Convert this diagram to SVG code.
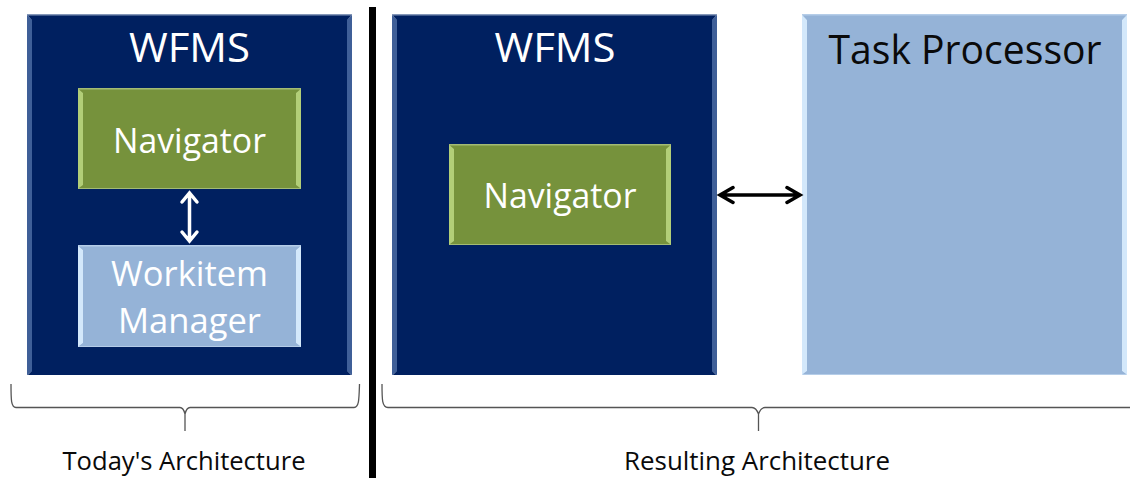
<svg xmlns="http://www.w3.org/2000/svg" width="1130" height="478" viewBox="0 0 1130 478">
<style>
text{font-family:"Open Sans","Noto Sans","Liberation Sans",sans-serif;text-anchor:middle}
.w{fill:#fff}.k{fill:#0a0a0a}
.t{font-size:41px}.n{font-size:35px}.c{font-size:25px}
.navy{fill:#002060}.navyb{fill:#3f5f98}.navyt{fill:#8497b8}
.green{fill:#76923c}.greenb{fill:#b2ce78}.greent{fill:#a3bb74}
.blue{fill:#95b3d7}.blueb{fill:#d3e8fb}.bluet{fill:#b5cde8}
.br{fill:none;stroke:#555;stroke-width:1.3}
.ar{fill:none;stroke-width:3.5;stroke-linecap:round;stroke-linejoin:miter}
</style>
<g id="wfms-left">
<rect class="navyt" x="27" y="14" width="325" height="361"/>
<path class="navyb" d="M27 15L32 20V371L27 375ZM352 15L347 20V371L352 375Z"/>
<path class="navy" d="M28 15.500H351L347 20V371L351 375H28L32 371V20Z"/>
<text class="t w" x="189.500" y="62" textLength="121" lengthAdjust="spacingAndGlyphs">WFMS</text>
</g>
<g id="navigator-left">
<rect class="greent" x="78" y="88" width="223" height="101"/>
<path class="greenb" d="M78 89L83 93V185L78 189ZM301 89L296 93V185L301 189Z"/>
<path class="green" d="M79 89.500H300L296 93V185L300 188H79L83 185V93Z"/>
<text class="n w" x="189.500" y="153" textLength="153" lengthAdjust="spacingAndGlyphs">Navigator</text>
</g>
<g id="workitem-manager">
<rect class="bluet" x="78" y="245" width="223" height="102"/>
<path class="blueb" d="M78 246L83 250V343L78 347ZM301 246L296 250V343L301 347Z"/>
<path class="blue" d="M79 246.500H300L296 250V343L300 346H79L83 343V250Z"/>
<text class="n w" x="189.500" y="286" textLength="157" lengthAdjust="spacingAndGlyphs">Workitem</text>
<text class="n w" x="189.500" y="333" textLength="143" lengthAdjust="spacingAndGlyphs">Manager</text>
</g>
<g id="divider"><rect x="369" y="7" width="7" height="471" fill="#000"/></g>
<g id="wfms-right">
<rect class="navyt" x="392" y="14" width="325" height="361"/>
<path class="navyb" d="M392 15L397 20V371L392 375ZM717 15L712 20V371L717 375Z"/>
<path class="navy" d="M393 15.500H716L712 20V371L716 375H393L397 371V20Z"/>
<text class="t w" x="555" y="62" textLength="121" lengthAdjust="spacingAndGlyphs">WFMS</text>
</g>
<g id="navigator-right">
<rect class="greent" x="449" y="144" width="222" height="101"/>
<path class="greenb" d="M449 145L454 149V241L449 245ZM671 145L666 149V241L671 245Z"/>
<path class="green" d="M450 145.500H670L666 149V241L670 244H450L454 241V149Z"/>
<text class="n w" x="560" y="208" textLength="153" lengthAdjust="spacingAndGlyphs">Navigator</text>
</g>
<g id="task-processor">
<rect class="bluet" x="802" y="14" width="325" height="361"/>
<path class="blueb" d="M802 15L807 20V371L802 375ZM1127 15L1122 20V371L1127 375Z"/>
<path class="blue" d="M803 15.500H1126L1122 20V371L1126 374H803L807 371V20Z"/>
<text class="t k" x="965" y="64" textLength="273" lengthAdjust="spacingAndGlyphs">Task Processor</text>
</g>
<g id="connectors">
<path class="ar" stroke="#fff" d="M189.500 195V239M182 202L189.500 193L197 202M182 232L189.500 241L197 232"/>
<path class="ar" stroke="#000" d="M722 195H798M733 187.500L720 195L733 202.500M787 187.500L800 195L787 202.500"/>
<path class="br" d="M11 384C11 400 11 407 16 407.500H180C183 407.500 184 410 185 414C186 410 187 407.500 190 407.500H354C359 407 359 400 359.500 384M185 414V431"/>
<path class="br" d="M382 384C382 400 382 407 388 407.500H752C755 407.500 757 410 758.500 414C760 410 762 407.500 765 407.500H1130M758.500 414V431"/>
</g>
<g id="labels">
<text class="c k" x="184" y="470" textLength="243" lengthAdjust="spacingAndGlyphs">Today's Architecture</text>
<text class="c k" x="757" y="470" textLength="266" lengthAdjust="spacingAndGlyphs">Resulting Architecture</text>
</g>
</svg>
